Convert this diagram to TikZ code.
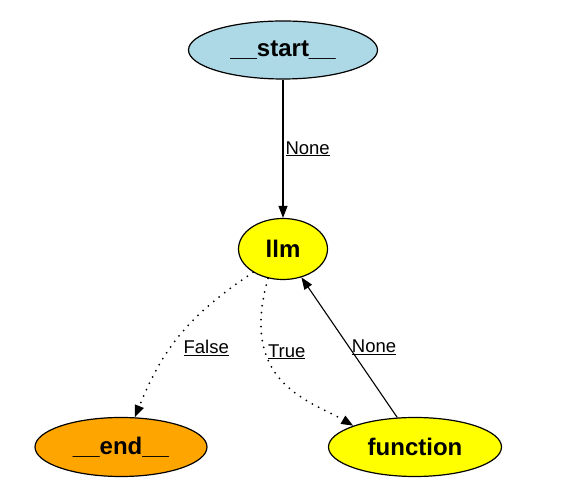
\documentclass[tikz,border=0pt]{standalone}
\usepackage{fontspec}
\setmainfont{Liberation Sans}
\usepackage{xcolor}
\usetikzlibrary{shapes.geometric,arrows.meta}

\definecolor{startblue}{RGB}{173,216,230}
\definecolor{endorange}{RGB}{255,165,0}
\definecolor{llmyellow}{RGB}{255,255,0}

\begin{document}
\begin{tikzpicture}[
  x=1pt, y=1pt,
  state/.style={draw, ellipse, line width=1.2pt, inner sep=0pt, font=\fontsize{24}{27}\selectfont\bfseries},
  lbl/.style={font=\fontsize{18.5}{21}\selectfont, inner sep=2pt},
  arr/.style={line width=1.1pt, -{Triangle[length=12pt,width=9pt]}},
  cond/.style={arr, line width=2pt, line cap=round, dash pattern=on 0pt off 7pt}
]
\useasboundingbox (0,0) rectangle (565,484);

\node[state, fill=startblue, minimum width=189pt, minimum height=58pt] (start) at (283,434) {\_\_start\_\_};
\node[state, fill=llmyellow, minimum width=89pt, minimum height=61pt] (llm) at (283,235) {llm};
\node[state, fill=endorange, minimum width=172pt, minimum height=59pt] (end) at (121,37) {\_\_end\_\_};
\node[state, fill=llmyellow, minimum width=173pt, minimum height=59pt] (function) at (415,37) {function};

\draw[arr] (start) -- node[lbl, right] (l1) {\underline{None}} (llm);
\draw[cond] (llm.218) to[out=214,in=68,looseness=1.05] node[lbl, pos=0.6, right, xshift=10pt] (l2) {\underline{False}} (end.65);
\draw[cond] (llm.243) .. controls +(-30,-105) and +(-43,25) .. node[lbl, pos=0.3, right] (l3) {\underline{True}} (function.161);
\draw[arr] (function.121) -- node[lbl, right] (l4) {\underline{None}} (llm.303);
\end{tikzpicture}
\end{document}
